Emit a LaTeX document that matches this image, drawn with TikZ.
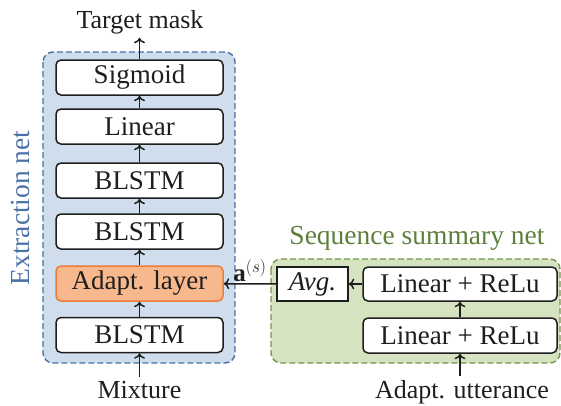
\documentclass[tikz,border=0pt]{standalone}
\usepackage{fontspec}
\setmainfont{Liberation Serif}
\usetikzlibrary{arrows.meta}
\definecolor{bluefill}{RGB}{207,221,236}
\definecolor{blueline}{RGB}{70,112,165}
\definecolor{bluetext}{RGB}{74,114,168}
\definecolor{greenfill}{RGB}{214,227,192}
\definecolor{greenline}{RGB}{116,149,75}
\definecolor{greentext}{RGB}{94,127,60}
\definecolor{orangefill}{RGB}{247,184,142}
\definecolor{orangeline}{RGB}{235,125,60}
\definecolor{ink}{RGB}{30,30,30}
\tikzset{
  layerbox/.style={draw=ink, line width=1.5pt, rounded corners=5pt, fill=white,
    minimum height=35pt, inner sep=0pt, font=\fontsize{27}{30}\selectfont, text=ink},
  plainbox/.style={draw=ink, line width=1.5pt, fill=white,
    minimum height=34pt, inner sep=0pt, font=\fontsize{27}{30}\selectfont, text=ink},
  outlabel/.style={inner sep=4pt, font=\fontsize{26}{29}\selectfont, text=ink},
  flow/.style={draw=ink, line width=1.5pt, -{To[length=5.5pt,width=11pt]}},
  container/.style={line width=1.4pt, rounded corners=10pt, dash pattern=on 6pt off 3pt},
}
\begin{document}
\begin{tikzpicture}[x=1pt,y=-1pt]
\useasboundingbox (0,0) rectangle (561,405);
% containers
\draw[container, draw=blueline, fill=bluefill] (43,52) rectangle (235,363);
\draw[container, draw=greenline, fill=greenfill] (271,259) rectangle (560,363);
\node[text=bluetext, font=\fontsize{27.5}{30}\selectfont, rotate=90] (extlab) at (21,208) {Extraction net};
\node[text=greentext, font=\fontsize{27.5}{30}\selectfont] (seqlab) at (417,238) {Sequence summary net};
% extraction net layers
\node[layerbox, minimum width=167pt] (sig) at (139.5,77.5) {Sigmoid};
\node[layerbox, minimum width=167pt] (lin) at (139.5,126.5) {Linear};
\node[layerbox, minimum width=167pt] (b1) at (139.5,180.5) {BLSTM};
\node[layerbox, minimum width=167pt] (b2) at (139.5,231.5) {BLSTM};
\node[layerbox, minimum width=167pt, draw=orangeline, fill=orangefill] (ad) at (139.5,283.5) {Adapt. layer};
\node[layerbox, minimum width=167pt] (b3) at (139.5,335) {BLSTM};
% summary net
\node[plainbox, minimum width=71pt] (avg) at (312.5,284) {\itshape Avg.};
\node[layerbox, minimum width=194pt, minimum height=34pt] (lr1) at (460,284) {Linear + ReLu};
\node[layerbox, minimum width=194pt] (lr2) at (460,335.5) {Linear + ReLu};
% outer labels
\node[outlabel, anchor=base] (tm) at (140,28) {Target mask};
\node[outlabel, anchor=base] (mix) at (139.5,398) {Mixture};
\node[outlabel, anchor=base] (utt) at (462,398) {Adapt. utterance};
% connectors
\draw[flow] (sig.north) -- (sig.north |- tm.south);
\draw[flow] (lin) -- (sig);
\draw[flow] (b1) -- (lin);
\draw[flow] (b2) -- (b1);
\draw[flow] (ad) -- (b2);
\draw[flow] (b3) -- (ad);
\draw[flow] (b3.south |- mix.north) -- (b3.south);
\draw[flow] (lr2.south |- utt.north) -- (lr2.south);
\draw[flow] (lr2) -- (lr1);
\draw[flow] (lr1) -- (avg);
\draw[flow] (avg) -- node[above, inner sep=1.5pt, text=ink, font=\fontsize{25}{28}\selectfont] (asym) {$\mathbf{a}^{(s)}$} (ad);
\end{tikzpicture}
\end{document}
